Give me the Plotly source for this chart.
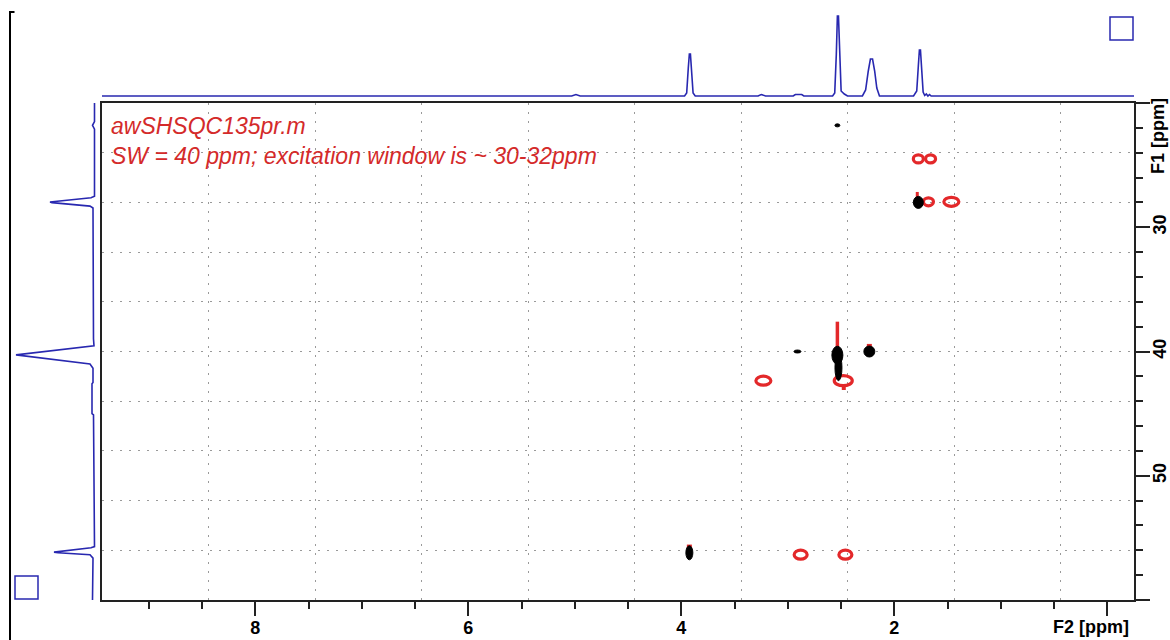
import plotly.graph_objects as go

# ------------------------------------------------------------------ data
# Top 1D projection (F2, 1H): chemical shift [ppm] and intensity (arb.)
top_ppm = [9.44, 5.03, 4.99, 4.95, 3.97, 3.95, 3.935, 3.925, 3.915, 3.905, 3.89, 3.87,
           3.28, 3.25, 3.21, 2.95, 2.93, 2.87, 2.85,
           2.58, 2.56, 2.545, 2.535, 2.525, 2.515, 2.50, 2.47, 2.44,
           2.30, 2.27, 2.245, 2.225, 2.205, 2.185, 2.165, 2.14,
           1.82, 1.79, 1.775, 1.765, 1.755, 1.745, 1.73, 1.715, 1.70, 1.685, 1.67, 1.655,
           -0.25]
top_int = [0, 0, 1.5, 0, 0, 3, 28, 42, 42, 28, 3, 0,
           0, 1.5, 0, 0, 1.5, 1.5, 0,
           0, 3, 42, 80, 80, 42, 5, 2, 0,
           0, 6, 25, 37, 37, 25, 8, 0,
           0, 5, 30, 46, 46, 30, 4, 0.5, 2, 0, 1.5, 0,
           0]

# Left 1D projection (F1, 13C): chemical shift [ppm] and intensity (arb.)
left_ppm = [20.0, 21.5, 21.8, 22.1, 27.5, 27.62, 27.97, 28.02, 28.3, 28.45,
            39.0, 39.55, 40.27, 40.35, 40.8, 41.0, 41.35, 42.5, 42.6, 45.0, 45.1,
            55.7, 55.8, 56.15, 56.2, 56.36, 56.63, 60.0]
left_int = [-0.5, -0.5, 1.5, -0.5, -0.5, 3, 44, 42, 4, 1,
            0.5, 0, 78, 70, 27, 4, 1, 1, 2, 2, 0.5,
            -0.5, 3, 40, 36, 4, 1, 1.5]

# 2D cross peaks, positive phase (black): F2 ppm, F1 ppm
pos_f2 = [2.535, 1.775, 2.91, 2.235, 2.535, 2.525, 3.925]
pos_f1 = [21.8, 28.0, 40.0, 40.0, 40.3, 41.3, 56.2]
# 2D cross peaks, negative phase (red)
neg_f2 = [1.775, 1.66, 1.68, 1.465, 3.23, 2.48, 2.88, 2.46]
neg_f1 = [24.5, 24.5, 27.95, 27.95, 42.35, 42.35, 56.35, 56.35]
# small negative contour fragments
frag_f2 = [1.785, 2.235, 3.925, 2.475]
frag_f1 = [27.4, 39.55, 55.7, 42.9]
# negative streak (t1 noise) along F1
streak_f2 = [2.535, 2.535]
streak_f1 = [37.6, 39.8]

# axis ranges
F2_RANGE = [9.44, -0.25]
F1_RANGE = [60, 20]

# ------------------------------------------------------------------ styles
W, H = 1170, 640
BLUE = "#2828b0"
RED = "#e3282a"
FRAME = "#222222"
GRID = "#9a9a9a"
pos_size_px = [(5, 3), (10, 12), (7, 3), (11, 11), (11, 18), (7, 26), (7, 14)]
neg_size_px = [(10, 8), (10, 8), (10, 8), (15, 9), (15, 9), (18, 10), (13, 9), (13, 9)]
frag_size_px = [(3, 6), (5, 4), (5, 4), (4, 5)]


def px(x):
    return x / W


def py(y):
    return 1 - y / H


XD = [px(102), px(1134)]
YD = [py(600), py(103)]

fig = go.Figure()

# top projection
fig.add_trace(go.Scatter(x=top_ppm, y=top_int, mode="lines", xaxis="x2", yaxis="y2",
                         line=dict(color=BLUE, width=1.6), hoverinfo="skip", showlegend=False))
# left projection
fig.add_trace(go.Scatter(x=left_int, y=left_ppm, mode="lines", xaxis="x3", yaxis="y3",
                         line=dict(color=BLUE, width=1.6), hoverinfo="skip", showlegend=False))
# grid carrier (invisible)
fig.add_trace(go.Scatter(x=[None], y=[None], xaxis="x4", yaxis="y4", showlegend=False,
                         hoverinfo="skip"))
# negative streak
fig.add_trace(go.Scatter(x=streak_f2, y=streak_f1, mode="lines", xaxis="x", yaxis="y",
                         line=dict(color=RED, width=3.5), hoverinfo="skip", showlegend=False))

shapes = []
for f2, f1, (w, h) in zip(neg_f2, neg_f1, neg_size_px):
    shapes.append(dict(type="circle", xref="x", yref="y", xsizemode="pixel", ysizemode="pixel",
                       xanchor=f2, yanchor=f1, x0=-w / 2, x1=w / 2, y0=-h / 2, y1=h / 2,
                       line=dict(color=RED, width=3.2), fillcolor="rgba(0,0,0,0)"))
for f2, f1, (w, h) in zip(frag_f2, frag_f1, frag_size_px):
    shapes.append(dict(type="rect", xref="x", yref="y", xsizemode="pixel", ysizemode="pixel",
                       xanchor=f2, yanchor=f1, x0=-w / 2, x1=w / 2, y0=-h / 2, y1=h / 2,
                       line=dict(width=0), fillcolor=RED))
for f2, f1, (w, h) in zip(pos_f2, pos_f1, pos_size_px):
    shapes.append(dict(type="circle", xref="x", yref="y", xsizemode="pixel", ysizemode="pixel",
                       xanchor=f2, yanchor=f1, x0=-w / 2, x1=w / 2, y0=-h / 2, y1=h / 2,
                       line=dict(color="#000000", width=1), fillcolor="#000000"))

# window decorations: blue squares and left bracket
shapes.append(dict(type="rect", xref="paper", yref="paper", x0=px(1110), x1=px(1133),
                   y0=py(40), y1=py(17), line=dict(color=BLUE, width=1.5)))
shapes.append(dict(type="rect", xref="paper", yref="paper", x0=px(15), x1=px(38),
                   y0=py(599), y1=py(576), line=dict(color=BLUE, width=1.5)))
shapes.append(dict(type="path", xref="paper", yref="paper",
                   path=f"M {px(14.5)},{py(12)} L {px(10)},{py(12)} L {px(10)},{py(640)}",
                   line=dict(color="#000000", width=2)))

tickfont = dict(family="Liberation Sans, Arial, sans-serif", size=18, color="#000000",
                weight="bold")
textfont = dict(family="Liberation Sans, Arial, sans-serif", size=23, color="#d42a2a",
                style="italic")

fig.update_layout(
    width=W, height=H, margin=dict(l=0, r=0, t=0, b=0, autoexpand=False),
    paper_bgcolor="white", plot_bgcolor="rgba(0,0,0,0)", showlegend=False,
    shapes=shapes,
    xaxis=dict(domain=XD, range=F2_RANGE, anchor="y", showline=True, linecolor=FRAME,
               linewidth=2, mirror=True, showgrid=False, zeroline=False,
               ticks="outside", tickmode="array", tickvals=[8, 6, 4, 2, 0],
               ticktext=["8", "6", "4", "2", ""], ticklen=14, tickwidth=2, tickcolor=FRAME,
               tickfont=tickfont, automargin=False, ticklabelstandoff=-4,
               minor=dict(tickmode="linear", tick0=0, dtick=0.5, ticklen=7, tickwidth=2,
                          tickcolor=FRAME, ticks="outside", showgrid=False)),
    yaxis=dict(domain=YD, range=F1_RANGE, anchor="x", side="right", showline=True,
               linecolor=FRAME, linewidth=2, mirror=True, showgrid=False, zeroline=False,
               ticks="outside", tickmode="array", tickvals=[20, 30, 40, 50, 60],
               ticktext=["", "30", "40", "50", ""], ticklen=14, tickwidth=2,
               tickcolor=FRAME, tickangle=-90, tickfont=tickfont, automargin=False,
               ticklabelstandoff=-6,
               minor=dict(tickmode="linear", tick0=0, dtick=2, ticklen=7, tickwidth=2,
                          tickcolor=FRAME, ticks="outside", showgrid=False)),
    xaxis2=dict(domain=XD, range=F2_RANGE, anchor="y2", visible=False),
    yaxis2=dict(domain=[py(103), 1], range=[-7, 96], anchor="x2", visible=False),
    xaxis3=dict(domain=[0, px(102)], range=[94, -8], anchor="y3", visible=False),
    yaxis3=dict(domain=YD, range=F1_RANGE, anchor="x3", visible=False),
    xaxis4=dict(overlaying="x", range=F2_RANGE, anchor="y4", tickmode="linear",
                tick0=F2_RANGE[0], dtick=(F2_RANGE[1] - F2_RANGE[0]) / 10, showgrid=True,
                gridcolor=GRID, gridwidth=1, griddash="2px,7px", showticklabels=False,
                ticks="", showline=False, zeroline=False),
    yaxis4=dict(overlaying="y", range=F1_RANGE, anchor="x4", tickmode="linear",
                tick0=F1_RANGE[1], dtick=(F1_RANGE[0] - F1_RANGE[1]) / 10, showgrid=True,
                gridcolor=GRID, gridwidth=1, griddash="2px,7px", showticklabels=False,
                ticks="", showline=False, zeroline=False),
    annotations=[
        dict(text="awSHSQC135pr.m", x=px(109), y=py(126), xref="paper", yref="paper",
             xanchor="left", yanchor="middle", showarrow=False, font=textfont),
        dict(text="SW = 40 ppm; excitation window is ~ 30-32ppm", x=px(109), y=py(156),
             xref="paper", yref="paper", xanchor="left", yanchor="middle",
             showarrow=False, font=textfont),
        dict(text="F2 [ppm]", x=px(1131), y=py(627), xref="paper", yref="paper",
             xanchor="right", yanchor="middle", showarrow=False, font=tickfont),
        dict(text="F1 [ppm]", x=px(1158), y=py(136), xref="paper", yref="paper",
             xanchor="center", yanchor="middle", textangle=-90, showarrow=False,
             font=tickfont),
    ],
)

fig.write_html("out.html", config={"displayModeBar": False},
               post_script="document.body.style.margin='0';document.body.style.overflow='hidden';")
